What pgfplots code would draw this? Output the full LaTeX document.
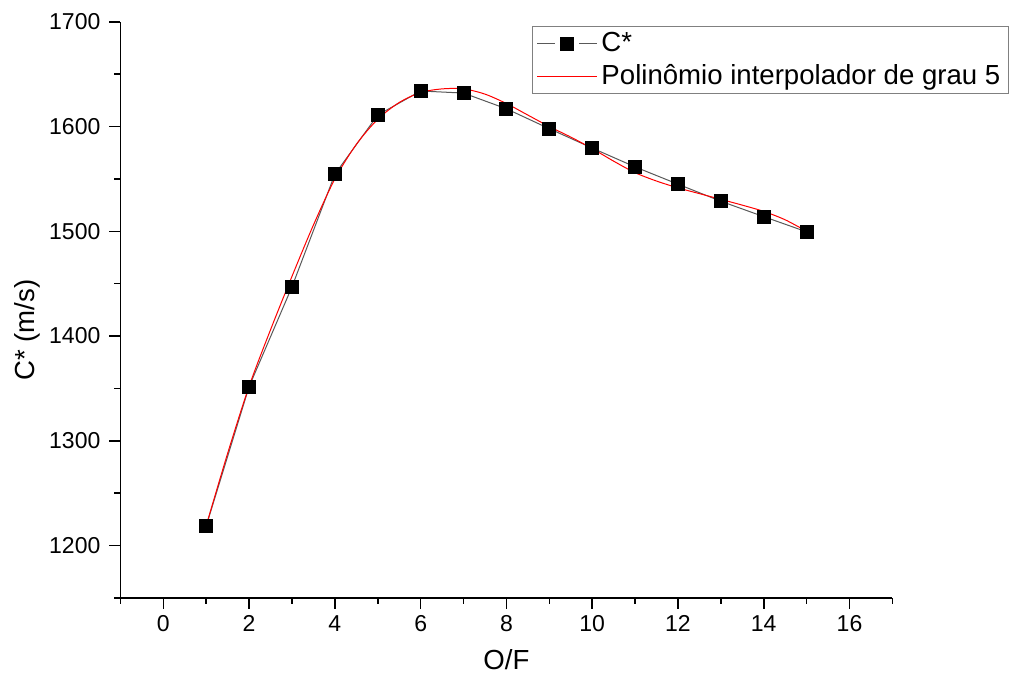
\documentclass[border=0pt]{standalone}
\usepackage{pgfplots}
\pgfplotsset{compat=1.18}
\usepackage{fontspec}
\setmainfont{Liberation Sans}
\begin{document}
\begin{tikzpicture}
\begin{axis}[
  scale only axis,
  width=386pt, height=288pt,
  xmin=-1, xmax=17, ymin=1150, ymax=1700,
  axis lines*=left,
  axis line style={line width=0.8pt},
  tick style={line width=0.8pt, black},
  tick align=outside,
  major tick length=5.5pt,
  minor tick length=3pt,
  xtick={0,2,...,16},
  minor xtick={-1,1,...,17},
  ytick={1200,1300,...,1700},
  minor ytick={1150,1250,...,1650},
  /pgf/number format/assume math mode=true,
  /pgf/number format/set thousands separator={},
  ticklabel style={font=\fontsize{11.5}{13}\selectfont},
  yticklabel style={xshift=-1pt},
  xlabel={O/F},
  ylabel={C* (m/s)},
  label style={font=\fontsize{13.8}{15}\selectfont},
  xlabel style={at={(axis description cs:0.5,-0.1076)}, anchor=center},
  ylabel style={at={(axis description cs:-0.1205,0.465)}, anchor=center},
  clip=false,
  legend style={at={(axis description cs:0.533,0.993)}, anchor=north west,
    draw=gray, line width=0.6pt, font=\fontsize{13.8}{15}\selectfont,
    inner xsep=2pt, inner ysep=1pt, row sep=1pt,
    nodes={inner sep=2pt}},
  legend cell align=left,
]
\addplot[color=black!65, line width=0.5pt, mark=square*, mark size=3.25pt,
  mark options={solid, fill=black, draw=black},
  legend image code/.code={\draw[color=black!65, line width=0.5pt] (0pt,0pt) -- (9pt,0pt);
    \draw[color=black!65, line width=0.5pt] (21pt,0pt) -- (30pt,0pt);
    \fill[black] (11.75pt,-3.25pt) rectangle (18.25pt,3.25pt);}] coordinates {
  (1,1218.6)(2,1351.7)(3,1447)(4,1554.5)(5,1611)(6,1634)(7,1632)(8,1617)
  (9,1598)(10,1579.5)(11,1561.5)(12,1545)(13,1528.7)(14,1514)(15,1499.5)
};
\addlegendentry{C*}
\addplot[color=red, line width=0.5pt, smooth,
  legend image code/.code={\draw[color=red, line width=0.5pt] (0pt,0pt) -- (30pt,0pt);}] coordinates {
  (1,1219)(1.5,1288)(2,1352)(2.5,1406)(3,1457)(3.5,1506)(4,1550)(4.5,1583)
  (5,1607)(5.5,1623)(6,1632.5)(6.5,1636)(7,1636)(7.5,1631)(8,1622)(8.5,1611)
  (9,1600)(9.5,1590)(10,1579)(10.5,1567)(11,1556)(11.5,1548)(12,1541.5)
  (12.5,1536)(13,1530.5)(13.5,1525)(14,1519)(14.5,1511)(15,1500)
};
\addlegendentry{Polinômio interpolador de grau 5}
\path (axis description cs:-0.156,-0.146) rectangle (axis description cs:1.151,1.038);
\end{axis}
\end{tikzpicture}
\end{document}
